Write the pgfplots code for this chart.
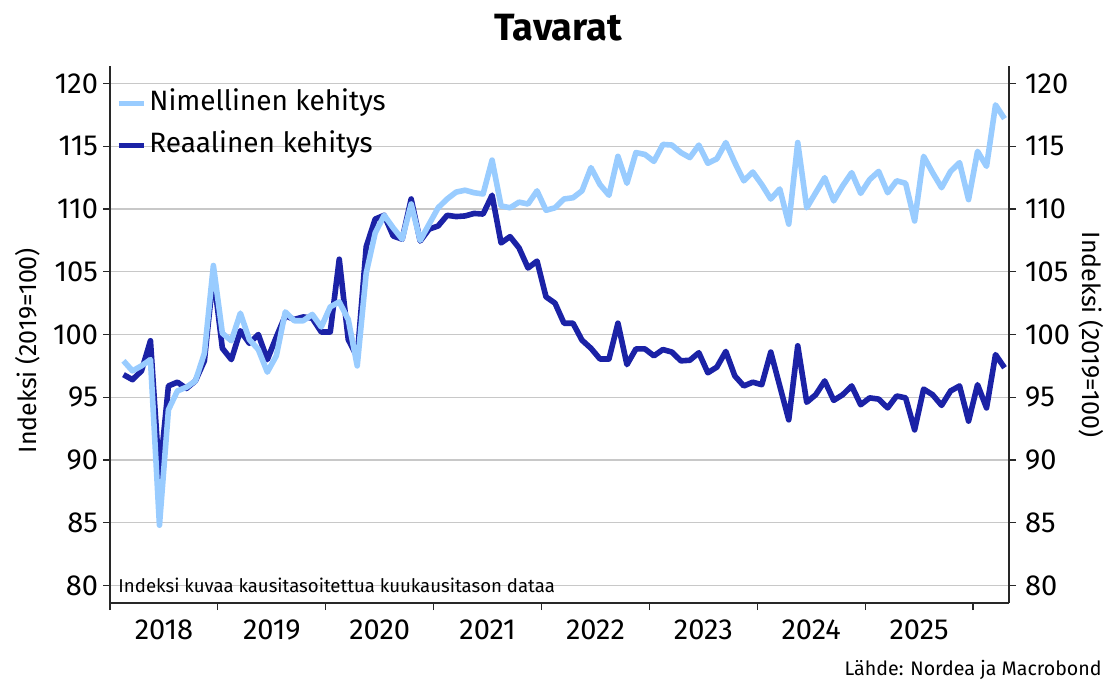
\documentclass[border=0pt]{standalone}
\usepackage{fontspec}
\setmainfont{Fira Sans}
\usepackage{pgfplots}
\usepackage{pgfplotstable}
\pgfplotsset{compat=1.18}
\definecolor{nom}{RGB}{153,204,255}
\definecolor{real}{RGB}{27,34,166}
\definecolor{gridc}{RGB}{200,200,200}
\definecolor{axc}{RGB}{40,40,40}

\pgfplotstableread{
m nom real
1.5 97.9 96.8
2.5 97.1 96.4
3.5 97.5 97.1
4.5 98.0 99.5
5.5 84.8 88.7
6.5 94.0 95.9
7.5 95.5 96.2
8.5 95.8 95.7
9.5 96.3 96.3
10.5 98.5 97.9
11.5 105.5 104.8
12.5 100.1 98.9
13.5 99.5 98.0
14.5 101.7 100.3
15.5 99.6 99.3
16.5 98.8 100.0
17.5 97.0 98.0
18.5 98.3 99.8
19.5 101.8 101.5
20.5 101.1 101.2
21.5 101.1 101.4
22.5 101.6 101.3
23.5 100.6 100.2
24.5 102.2 100.2
25.5 102.6 106.0
26.5 101.2 99.6
27.5 97.5 98.2
28.5 104.9 107.0
29.5 108.1 109.2
30.5 109.5 109.5
31.5 108.5 107.85
32.5 107.6 107.6
33.5 110.4 110.8
34.5 107.5 107.45
35.5 108.8 108.4
36.5 110.1 108.65
37.5 110.8 109.5
38.5 111.35 109.4
39.5 111.5 109.45
40.5 111.3 109.65
41.5 111.2 109.6
42.5 113.9 111.1
43.5 110.25 107.3
44.5 110.1 107.8
45.5 110.55 106.9
46.5 110.4 105.3
47.5 111.45 105.85
48.5 109.9 103.0
49.5 110.1 102.5
50.5 110.8 100.9
51.5 110.9 100.9
52.5 111.45 99.55
53.5 113.3 98.9
54.5 111.95 98.05
55.5 111.1 98.05
56.5 114.2 100.9
57.5 112.05 97.6
58.5 114.5 98.85
59.5 114.35 98.85
60.5 113.8 98.3
61.5 115.15 98.8
62.5 115.1 98.6
63.5 114.5 97.9
64.5 114.1 97.95
65.5 115.1 98.55
66.5 113.65 96.95
67.5 114.0 97.4
68.5 115.3 98.65
69.5 113.7 96.7
70.5 112.25 95.9
71.5 112.95 96.2
72.5 111.95 96.0
73.5 110.8 98.6
74.5 111.6 95.9
75.5 108.8 93.2
76.5 115.3 99.1
77.5 110.1 94.6
78.5 111.3 95.2
79.5 112.5 96.3
80.5 110.65 94.75
81.5 111.85 95.2
82.5 112.9 95.9
83.5 111.25 94.4
84.5 112.35 94.95
85.5 113.0 94.85
86.5 111.3 94.15
87.5 112.25 95.1
88.5 112.05 94.95
89.5 109.05 92.4
90.5 114.2 95.65
91.5 112.9 95.2
92.5 111.7 94.35
93.5 113.0 95.5
94.5 113.7 95.9
95.5 110.75 93.1
96.5 114.6 96.0
97.5 113.4 94.15
98.5 118.3 98.4
99.5 117.2 97.35
}\data

\begin{document}
\begin{tikzpicture}
\useasboundingbox (0,0) rectangle (553.5pt,340.5pt);
\pgfplotsset{
  common/.style={
    at={(55pt,39pt)}, anchor=south west,
    width=449.5pt, height=268.5pt, scale only axis,
    xmin=0, xmax=100, ymin=78.6, ymax=121.4,
    ytick={80,85,...,120},
    tick align=outside,
    major tick length=3.5pt,
    tick style={axc, line width=0.6pt},
    axis line style={axc, line width=0.7pt, -},
    /pgf/number format/assume math mode=true,
    ticklabel style={font=\fontsize{14.5}{17}\selectfont},
    yticklabel style={xshift=1pt},
    xticklabel style={yshift=-1.5pt},
    label style={font=\fontsize{12.5}{15}\selectfont},
  }
}
\begin{axis}[
  common,
  axis x line*=bottom, axis y line*=left,
  xtick={0,12,...,96},
  xticklabels={2018,2019,2020,2021,2022,2023,2024,2025},
  x tick label as interval,
  ymajorgrids,
  grid style={gridc, line width=0.7pt},
  ylabel={Indeksi (2019=100)},
  ylabel style={at={(axis description cs:-0.091,0.47)}, anchor=center},
  reverse legend,
  legend cell align=left,
  legend style={at={(axis description cs:0.006,1)}, anchor=north west, yshift=-10.5pt,
    draw=none, fill=none, inner sep=0pt, row sep=5pt,
    font=\fontsize{14}{16}\selectfont,
    nodes={inner sep=1.5pt, text height=10pt, text depth=3pt}},
  legend image code/.code={\draw[#1, line width=2.8pt] (0pt,0pt) -- (12.5pt,0pt);},
]
\addplot[real, line width=2.8pt, line join=round] table[x=m, y=real] {\data};
\addlegendentry{Reaalinen kehitys}
\addplot[nom, line width=2.8pt, line join=round] table[x=m, y=nom] {\data};
\addlegendentry{Nimellinen kehitys}
\node[anchor=west, font=\fontsize{9.3}{11}\selectfont, inner sep=0pt] at (axis cs:0.9,80) {Indeksi kuvaa kausitasoitettua kuukausitason dataa};
\end{axis}
\begin{axis}[
  common,
  axis x line=none, axis y line*=right,
  ylabel={Indeksi (2019=100)},
  ylabel style={at={(axis description cs:1.092,0.5)}, anchor=center, rotate=180},
]
\end{axis}
\node[font=\bfseries\fontsize{19}{22}\selectfont] at (279pt,326.5pt) {Tavarat};
\node[anchor=base east, font=\fontsize{9.8}{11}\selectfont, inner sep=0pt] at (551pt,3pt) {Lähde: Nordea ja Macrobond};
\end{tikzpicture}
\end{document}
